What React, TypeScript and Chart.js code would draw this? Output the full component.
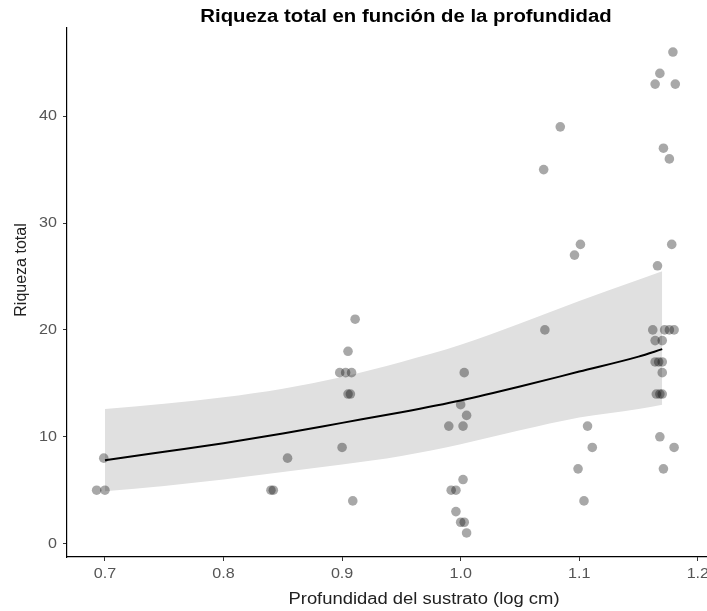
import React, { useEffect, useRef } from "react";
import { Chart, registerables } from "chart.js";
Chart.register(...registerables);

const titleText = "Riqueza total en función de la profundidad";
const xTitle = "Profundidad del sustrato (log cm)";
const yTitle = "Riqueza total";

const xTicks = [0.7, 0.8, 0.9, 1.0, 1.1, 1.2];
const yTicks = [0, 10, 20, 30, 40];

const pointX = [
  0.693, 0.7, 0.699, 0.84, 0.842, 0.854, 0.9, 0.909, 0.898, 0.903, 0.908, 0.905, 0.907, 0.905, 0.911,
  0.99, 1.002, 1.0, 1.005, 1.003, 1.002, 0.992, 0.996, 0.996, 1.0, 1.003, 1.005,
  1.071, 1.07, 1.084, 1.096, 1.101, 1.107, 1.111, 1.099, 1.104,
  1.179, 1.168, 1.164, 1.181, 1.171, 1.176, 1.178, 1.166, 1.162, 1.172, 1.176, 1.18,
  1.164, 1.17, 1.164, 1.167, 1.17, 1.17, 1.165, 1.168, 1.17, 1.168, 1.18, 1.171,
];
const pointY = [
  5, 5, 8, 5, 5, 8, 9, 4, 16, 16, 16, 14, 14, 18, 21,
  11, 11, 13, 12, 16, 6, 5, 5, 3, 2, 2, 1,
  20, 35, 39, 27, 28, 11, 9, 7, 4,
  46, 44, 43, 43, 37, 36, 28, 26, 20, 20, 20, 20,
  19, 19, 17, 17, 17, 16, 14, 14, 14, 10, 9, 7,
];

const fitX = [0.7, 0.75, 0.8, 0.85, 0.9, 0.95, 1.0, 1.05, 1.1, 1.15, 1.17];
const fitY = [7.8, 8.6, 9.4, 10.3, 11.3, 12.3, 13.4, 14.7, 16.1, 17.5, 18.2];
const fitUpper = [12.6, 13.1, 13.7, 14.5, 15.6, 17.0, 18.6, 20.6, 22.7, 24.7, 25.5];
const fitLower = [4.9, 5.4, 6.0, 6.7, 7.4, 8.2, 9.3, 10.6, 11.8, 12.6, 13.0];

const FONT = "'Liberation Sans', Arial, Helvetica, sans-serif";
const SX = 1.15;

function drawText(
  ctx: CanvasRenderingContext2D,
  text: string,
  x: number,
  y: number,
  align: CanvasTextAlign,
  font: string,
  color: string,
  sx: number,
  rotate = 0
) {
  ctx.save();
  ctx.font = font;
  ctx.fillStyle = color;
  ctx.textAlign = align;
  ctx.textBaseline = "middle";
  ctx.translate(x, y);
  if (rotate) ctx.rotate(rotate);
  ctx.scale(sx, 1);
  ctx.fillText(text, 0, 0);
  ctx.restore();
}

const textPlugin = {
  id: "customText",
  afterDraw(chart: any) {
    const ctx = chart.ctx as CanvasRenderingContext2D;
    const xs = chart.scales.x;
    const ys = chart.scales.y;
    drawText(ctx, titleText, 406, 17, "center", `bold 18px ${FONT}`, "#000", 1.13);
    xTicks.forEach((v) => {
      drawText(ctx, v.toFixed(1), xs.getPixelForValue(v), 574, "center", `14px ${FONT}`, "#555", SX);
    });
    yTicks.forEach((v) => {
      drawText(ctx, String(v), 57, ys.getPixelForValue(v), "right", `14px ${FONT}`, "#555", SX);
    });
    drawText(ctx, xTitle, 424, 600, "center", `16px ${FONT}`, "#222", SX);
    drawText(ctx, yTitle, 22, 270, "center", `16px ${FONT}`, "#222", 1, -Math.PI / 2);
  },
};

export default function App() {
  const ref = useRef<HTMLCanvasElement | null>(null);
  useEffect(() => {
    if (!ref.current) return;
    const pts = pointX.map((x, i) => ({ x, y: pointY[i] }));
    const line = fitX.map((x, i) => ({ x, y: fitY[i] }));
    const up = fitX.map((x, i) => ({ x, y: fitUpper[i] }));
    const lo = fitX.map((x, i) => ({ x, y: fitLower[i] }));
    const chart = new Chart(ref.current, {
      type: "scatter",
      data: {
        datasets: [
          {
            type: "scatter",
            data: pts,
            pointRadius: 4.8,
            pointBackgroundColor: "rgba(0,0,0,0.34)",
            pointBorderWidth: 0,
            order: 0,
          } as any,
          {
            type: "line",
            data: line,
            borderColor: "#000",
            borderWidth: 2,
            pointRadius: 0,
            cubicInterpolationMode: "monotone",
            fill: false,
            order: 1,
          } as any,
          {
            type: "line",
            data: up,
            borderWidth: 0,
            borderColor: "rgba(0,0,0,0)",
            backgroundColor: "#e0e0e0",
            pointRadius: 0,
            cubicInterpolationMode: "monotone",
            fill: 3,
            order: 2,
          } as any,
          {
            type: "line",
            data: lo,
            borderWidth: 0,
            borderColor: "rgba(0,0,0,0)",
            pointRadius: 0,
            cubicInterpolationMode: "monotone",
            fill: false,
            order: 3,
          } as any,
        ],
      },
      options: {
        responsive: false,
        animation: false,
        layout: { padding: { top: 28, right: 1.4, left: 0, bottom: 0 } },
        plugins: {
          legend: { display: false },
          tooltip: { enabled: false },
          title: { display: false },
        },
        scales: {
          x: {
            type: "linear",
            min: 0.668,
            max: 1.2096,
            afterFit(scale: any) {
              scale.height = 54;
            },
            afterBuildTicks(scale: any) {
              scale.ticks = xTicks.map((v) => ({ value: v }));
            },
            ticks: { display: false },
            grid: {
              display: true,
              drawOnChartArea: false,
              drawTicks: true,
              tickLength: 4,
              color: "#333",
            },
            border: { display: true, color: "#000", width: 1.2 },
            title: { display: false },
          },
          y: {
            type: "linear",
            min: -1.25,
            max: 48.25,
            afterFit(scale: any) {
              scale.width = 67;
            },
            afterBuildTicks(scale: any) {
              scale.ticks = yTicks.map((v) => ({ value: v }));
            },
            ticks: { display: false },
            grid: {
              display: true,
              drawOnChartArea: false,
              drawTicks: true,
              tickLength: 4,
              color: "#333",
            },
            border: { display: true, color: "#000", width: 1.2 },
            title: { display: false },
          },
        },
      },
      plugins: [textPlugin],
    });
    return () => chart.destroy();
  }, []);
  return (
    <div
      style={{
        position: "fixed",
        left: 0,
        top: 0,
        width: 707,
        height: 611,
        overflow: "hidden",
        background: "#fff",
      }}
    >
      <canvas ref={ref} width={714} height={611} style={{ display: "block" }} />
    </div>
  );
}
